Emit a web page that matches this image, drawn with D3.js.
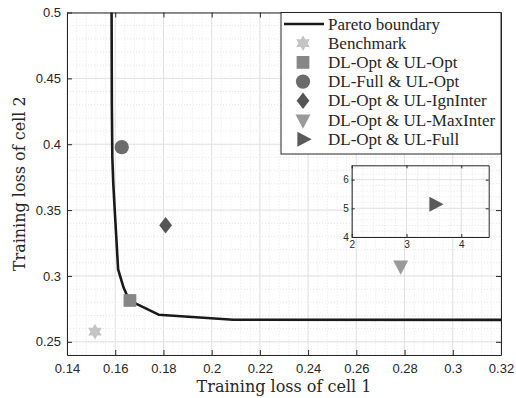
<!DOCTYPE html>
<html>
<head>
<meta charset="utf-8">
<style>
body { margin: 0; background: #fff; }
.tick text { font-family: "Liberation Sans", Arial, sans-serif; fill: #262626; }
.label { font-family: "Liberation Serif", "Times New Roman", serif; fill: #262626; }
.axlabel { font-family: "DejaVu Serif", serif; fill: #262626; }
</style>
</head>
<body>
<div class="chart"></div>
<script src="https://d3js.org/d3.v7.min.js"></script>
<script>
// Pareto boundary (cell 1 loss, cell 2 loss)
var paretoX = [0.1585, 0.1586, 0.1588, 0.1592, 0.1598, 0.1612, 0.1635, 0.1658, 0.178, 0.209, 0.32];
var paretoY = [0.5, 0.43, 0.39, 0.37, 0.35, 0.305, 0.291, 0.2815, 0.2706, 0.2668, 0.2667];

// schemes
var schemeNames = ["Benchmark", "DL-Opt & UL-Opt", "DL-Full & UL-Opt", "DL-Opt & UL-IgnInter", "DL-Opt & UL-MaxInter", "DL-Opt & UL-Full"];
var schemeX = [0.1516, 0.1661, 0.1627, 0.1809, 0.2784, 3.52];
var schemeY = [0.2577, 0.2814, 0.3978, 0.3385, 0.3074, 5.14];
var schemeShape = ["hexagram", "square", "circle", "diamond", "down", "right"];
var schemeColor = ["#c4c4c4", "#868686", "#6b6b6b", "#555555", "#9a9a9a", "#5a5a5a"];

var xTicks = [0.14, 0.16, 0.18, 0.2, 0.22, 0.24, 0.26, 0.28, 0.3, 0.32];
var yTicks = [0.25, 0.3, 0.35, 0.4, 0.45, 0.5];
var insetXTicks = [2, 3, 4];
var insetYTicks = [4, 5, 6];

var W = 516, H = 398;
var margin = {top: 12.5, right: 15, bottom: 43, left: 67};
var width = W - margin.left - margin.right,
    height = H - margin.top - margin.bottom;

var svg = d3.select(".chart").append("svg")
    .attr("width", W).attr("height", H);
var g = svg.append("g")
    .attr("transform", "translate(" + margin.left + "," + margin.top + ")");

var x = d3.scaleLinear().domain([0.14, 0.32]).range([0, width]);
var y = d3.scaleLinear().domain([0.24, 0.5]).range([height, 0]);

// minor grid
g.append("g").selectAll("line").data(d3.range(0.14, 0.3201, 0.004))
  .enter().append("line")
    .attr("x1", d => x(d)).attr("x2", d => x(d)).attr("y1", 0).attr("y2", height)
    .attr("stroke", "#e6e6e6").attr("stroke-dasharray", "1,2");
g.append("g").selectAll("line").data(d3.range(0.24, 0.5001, 0.01))
  .enter().append("line")
    .attr("y1", d => y(d)).attr("y2", d => y(d)).attr("x1", 0).attr("x2", width)
    .attr("stroke", "#e6e6e6").attr("stroke-dasharray", "1,2");
// major grid
g.append("g").selectAll("line").data(xTicks)
  .enter().append("line")
    .attr("x1", d => x(d)).attr("x2", d => x(d)).attr("y1", 0).attr("y2", height)
    .attr("stroke", "#e2e2e2");
g.append("g").selectAll("line").data(yTicks)
  .enter().append("line")
    .attr("y1", d => y(d)).attr("y2", d => y(d)).attr("x1", 0).attr("x2", width)
    .attr("stroke", "#e2e2e2");

// axes (ticks inward, box on)
function styleAxis(sel) {
  sel.select(".domain").attr("stroke", "#262626");
  sel.selectAll(".tick line").attr("stroke", "#262626");
}
g.append("g").attr("transform", "translate(0," + height + ")")
  .call(d3.axisBottom(x).tickValues(xTicks).tickSizeInner(-5).tickSizeOuter(0).tickPadding(9).tickFormat(d3.format("")))
  .call(styleAxis)
  .selectAll("text").attr("font-size", 13);
g.append("g")
  .call(d3.axisLeft(y).tickValues(yTicks).tickSizeInner(-5).tickSizeOuter(0).tickPadding(6).tickFormat(d3.format("")))
  .call(styleAxis)
  .selectAll("text").attr("font-size", 13);
g.append("g")
  .call(d3.axisTop(x).tickValues(xTicks).tickSizeInner(-5).tickSizeOuter(0).tickFormat(""))
  .call(styleAxis);
g.append("g").attr("transform", "translate(" + width + ",0)")
  .call(d3.axisRight(y).tickValues(yTicks).tickSizeInner(-5).tickSizeOuter(0).tickFormat(""))
  .call(styleAxis);

// axis labels
svg.append("text").attr("class", "axlabel")
  .attr("x", margin.left + width / 2).attr("y", 392)
  .attr("text-anchor", "middle").attr("font-size", 16)
  .text("Training loss of cell 1");
svg.append("text").attr("class", "axlabel")
  .attr("transform", "translate(25," + (margin.top + height / 2) + ") rotate(-90)")
  .attr("text-anchor", "middle").attr("font-size", 16)
  .text("Training loss of cell 2");

// pareto boundary
var line = d3.line().x((d, i) => x(paretoX[i])).y((d, i) => y(paretoY[i]));
g.append("path").datum(paretoX)
  .attr("d", line)
  .attr("fill", "none").attr("stroke", "#1a1a1a").attr("stroke-width", 2.6)
  .attr("stroke-linejoin", "round");

// marker path generator, centred at 0,0
function markerPath(shape, s) {
  var r = s / 2;
  if (shape === "hexagram") {
    var p = [];
    for (var k = 0; k < 12; k++) {
      var a = -Math.PI / 2 + k * Math.PI / 6;
      var rr = k % 2 === 0 ? r * 1.05 : r * 0.6;
      p.push([rr * Math.cos(a), rr * Math.sin(a)]);
    }
    return "M" + p.join("L") + "Z";
  }
  if (shape === "square") { var q = r * 0.85; return "M" + -q + "," + -q + "H" + q + "V" + q + "H" + -q + "Z"; }
  if (shape === "circle") { return d3.symbol(d3.symbolCircle, Math.PI * r * r * 0.9)(); }
  if (shape === "diamond") { return "M0," + -r * 1.1 + "L" + r * 0.85 + ",0L0," + r * 1.1 + "L" + -r * 0.85 + ",0Z"; }
  if (shape === "down") { return "M" + -r + "," + -r * 0.75 + "L" + r + "," + -r * 0.75 + "L0," + r * 1.15 + "Z"; }
  if (shape === "right") { return "M" + -r * 0.75 + "," + -r + "L" + r * 1.15 + ",0L" + -r * 0.75 + "," + r + "Z"; }
}

// scheme markers in main axes (all except last)
schemeNames.forEach(function(name, i) {
  if (schemeShape[i] === "right") return;
  g.append("path")
    .attr("d", markerPath(schemeShape[i], 15))
    .attr("transform", "translate(" + x(schemeX[i]) + "," + y(schemeY[i]) + ")")
    .attr("fill", schemeColor[i]);
});

// legend
var lg = svg.append("g").attr("transform", "translate(281,12.5)");
var lgW = 501 - 281, lgH = 154 - 12.5;
lg.append("rect").attr("width", lgW).attr("height", lgH)
  .attr("fill", "#fff").attr("stroke", "#262626").attr("stroke-width", 1);
var rowH = 19.2, row0 = 11.5;
lg.append("line").attr("x1", 3).attr("x2", 43).attr("y1", row0).attr("y2", row0)
  .attr("stroke", "#1a1a1a").attr("stroke-width", 2.6);
lg.append("text").attr("class", "label").attr("x", 47).attr("y", row0 + 5.6)
  .attr("font-size", 17).text("Pareto boundary");
schemeNames.forEach(function(name, i) {
  var cy = row0 + (i + 1) * rowH;
  lg.append("path").attr("d", markerPath(schemeShape[i], 15))
    .attr("transform", "translate(22," + cy + ")")
    .attr("fill", schemeColor[i]);
  lg.append("text").attr("class", "label").attr("x", 47).attr("y", cy + 5.6)
    .attr("font-size", 17).text(name);
});

// inset axes
var ix0 = 351.7, iy0 = 165.3, iw = 488.7 - 351.7, ih = 237 - 165.3;
var ins = svg.append("g").attr("transform", "translate(" + ix0 + "," + iy0 + ")");
var xi = d3.scaleLinear().domain([2, 4.5]).range([0, iw]);
var yi = d3.scaleLinear().domain([4, 6.5]).range([ih, 0]);
ins.append("rect").attr("width", iw).attr("height", ih).attr("fill", "#fff");
ins.append("g").selectAll("line").data(d3.range(2, 4.501, 0.2))
  .enter().append("line")
    .attr("x1", d => xi(d)).attr("x2", d => xi(d)).attr("y1", 0).attr("y2", ih)
    .attr("stroke", "#e6e6e6").attr("stroke-dasharray", "1,2");
ins.append("g").selectAll("line").data(d3.range(4, 6.501, 0.2))
  .enter().append("line")
    .attr("y1", d => yi(d)).attr("y2", d => yi(d)).attr("x1", 0).attr("x2", iw)
    .attr("stroke", "#e6e6e6").attr("stroke-dasharray", "1,2");
ins.append("g").selectAll("line").data(insetXTicks)
  .enter().append("line")
    .attr("x1", d => xi(d)).attr("x2", d => xi(d)).attr("y1", 0).attr("y2", ih)
    .attr("stroke", "#e2e2e2");
ins.append("g").selectAll("line").data(insetYTicks)
  .enter().append("line")
    .attr("y1", d => yi(d)).attr("y2", d => yi(d)).attr("x1", 0).attr("x2", iw)
    .attr("stroke", "#e2e2e2");
ins.append("g").attr("transform", "translate(0," + ih + ")")
  .call(d3.axisBottom(xi).tickValues(insetXTicks).tickSizeInner(-3).tickSizeOuter(0).tickPadding(4).tickFormat(d3.format("d")))
  .call(styleAxis).selectAll("text").attr("font-size", 10);
ins.append("g")
  .call(d3.axisLeft(yi).tickValues(insetYTicks).tickSizeInner(-3).tickSizeOuter(0).tickPadding(3).tickFormat(d3.format("d")))
  .call(styleAxis).selectAll("text").attr("font-size", 10);
ins.append("g")
  .call(d3.axisTop(xi).tickValues(insetXTicks).tickSizeInner(-3).tickSizeOuter(0).tickFormat(""))
  .call(styleAxis);
ins.append("g").attr("transform", "translate(" + iw + ",0)")
  .call(d3.axisRight(yi).tickValues(insetYTicks).tickSizeInner(-3).tickSizeOuter(0).tickFormat(""))
  .call(styleAxis);
ins.append("path").attr("d", markerPath("right", 15))
  .attr("transform", "translate(" + xi(schemeX[5]) + "," + yi(schemeY[5]) + ")")
  .attr("fill", schemeColor[5]);
</script>
</body>
</html>
